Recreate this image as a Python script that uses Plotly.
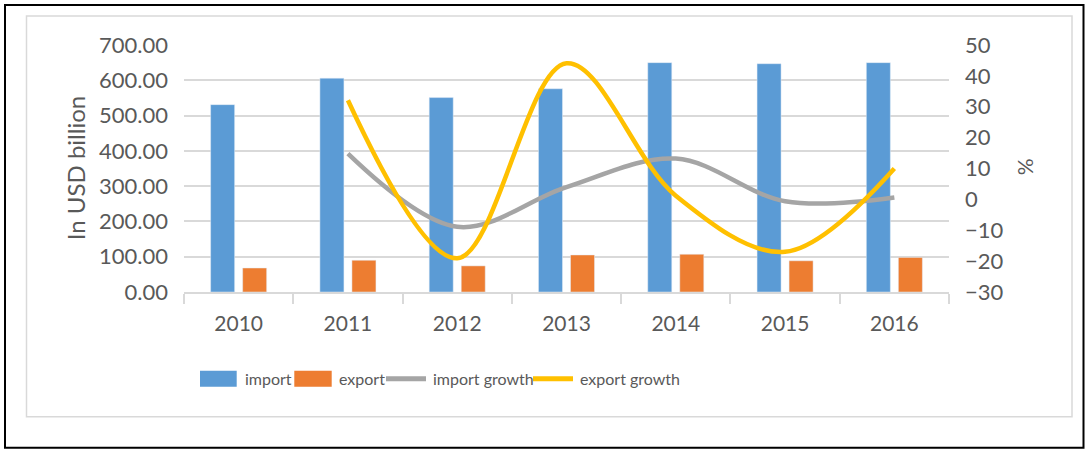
import plotly.graph_objects as go

# Trade volumes (USD billion) and year-on-year growth (%)
years = ["2010", "2011", "2012", "2013", "2014", "2015", "2016"]
imports = [531, 606, 551, 576, 650, 647, 650]
exports = [68, 90, 74, 105, 107, 88.5, 98]
import_growth = [None, 14.8, -8.9, 4.0, 13.2, -0.6, 0.6]
export_growth = [None, 32.1, -19.1, 44.1, 1.2, -17.0, 10.0]

left_ticks = [0, 100, 200, 300, 400, 500, 600, 700]
right_ticks = [-30, -20, -10, 0, 10, 20, 30, 40, 50]

BLUE = "#5b9bd5"
ORANGE = "#ed7d31"
GRAY = "#a5a5a5"
YELLOW = "#ffc000"
TEXT = "#595959"
GRID = "#d9d9d9"
FONT = "Lato"

W, H = 1085, 450
L, R, T, B = 184, 136, 44.5, 158
PW, PH = W - L - R, H - T - B


def px(x):
    return (x - L) / PW


def py(y):
    return (H - B - y) / PH


fig = go.Figure()
fig.add_trace(go.Bar(x=years, y=imports, name="import", marker_color=BLUE))
fig.add_trace(go.Bar(x=years, y=exports, name="export", marker_color=ORANGE))
fig.add_trace(go.Scatter(x=years, y=import_growth, name="import growth", yaxis="y2",
                         mode="lines", line=dict(color=GRAY, width=4.5, shape="spline", smoothing=1)))
fig.add_trace(go.Scatter(x=years, y=export_growth, name="export growth", yaxis="y2",
                         mode="lines", line=dict(color=YELLOW, width=4.5, shape="spline", smoothing=1)))

shapes = [
    # outer frame
    dict(type="rect", xref="paper", yref="paper", x0=px(5), x1=px(1083.5), y0=py(448), y1=py(4.5),
         line=dict(color="#000000", width=2), layer="below"),
    # chart-area frame
    dict(type="rect", xref="paper", yref="paper", x0=px(26.5), x1=px(1072), y0=py(417), y1=py(15.5),
         line=dict(color=GRID, width=1.5), layer="below"),
]
annotations = [
    dict(text="In USD billion", x=px(75), y=py(168), xref="paper", yref="paper", textangle=-90,
         showarrow=False, xanchor="center", yanchor="middle", font=dict(family=FONT, size=24, color=TEXT)),
    dict(text="%", x=px(1024), y=py(167), xref="paper", yref="paper", textangle=-90,
         showarrow=False, xanchor="center", yanchor="middle", font=dict(family=FONT, size=21, color=TEXT)),
]

# legend row
legend_y = 379
legend_items = [
    ("rect", BLUE, 200, 236.7, "import", 242.7),
    ("rect", ORANGE, 294.3, 331.7, "export", 337.3),
    ("line", GRAY, 386, 426, "import growth", 430.7),
    ("line", YELLOW, 533, 573, "export growth", 578.3),
]
for kind, color, x0, x1, label, tx in legend_items:
    if kind == "rect":
        shapes.append(dict(type="rect", xref="paper", yref="paper", x0=px(x0), x1=px(x1),
                           y0=py(legend_y + 8), y1=py(legend_y - 8), fillcolor=color, line=dict(width=0)))
    else:
        shapes.append(dict(type="line", xref="paper", yref="paper", x0=px(x0), x1=px(x1),
                           y0=py(legend_y), y1=py(legend_y), line=dict(color=color, width=5)))
    annotations.append(dict(text=label, x=px(tx), y=py(legend_y), xref="paper", yref="paper",
                            showarrow=False, xanchor="left", yanchor="middle",
                            font=dict(family=FONT, size=16, color=TEXT)))

fig.update_layout(
    width=W, height=H,
    margin=dict(l=L, r=R, t=T, b=B),
    paper_bgcolor="white", plot_bgcolor="white",
    barmode="group", bargap=0.414, bargroupgap=0.25,
    showlegend=False,
    font=dict(family=FONT, size=20, color=TEXT),
    xaxis=dict(type="category", showgrid=False, showline=True, linecolor=GRID, linewidth=1.5,
               ticks="outside", tickson="boundaries", ticklen=10, tickcolor=GRID, tickwidth=1.5,
               ticklabelstandoff=12, tickfont=dict(family=FONT, size=21, color=TEXT)),
    yaxis=dict(range=[0, 700], tickvals=left_ticks, tickformat=".2f", showgrid=True,
               gridcolor=GRID, gridwidth=1.5, zeroline=False, showline=False,
               ticklabelstandoff=15, tickfont=dict(family=FONT, size=22, color=TEXT)),
    yaxis2=dict(range=[-30, 50], tickvals=right_ticks, overlaying="y", side="right",
                showgrid=False, zeroline=False, showline=False, ticklabelstandoff=15,
                tickfont=dict(family=FONT, size=22, color=TEXT)),
    shapes=shapes,
    annotations=annotations,
)

fig.write_html("out.html")
